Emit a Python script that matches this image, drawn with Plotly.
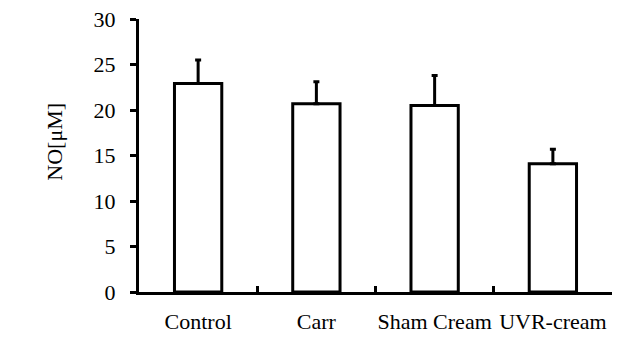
import plotly.graph_objects as go

categories = ["Control", "Carr", "Sham Cream", "UVR-cream"]
values = [22.9, 20.7, 20.5, 14.1]
errors = [2.6, 2.4, 3.3, 1.6]
y_ticks = [0, 5, 10, 15, 20, 25, 30]

FONT = "Liberation Serif, Times New Roman, Times, serif"

fig = go.Figure()
fig.add_trace(go.Bar(
    x=categories, y=values, width=0.4,
    marker=dict(color="white", line=dict(color="black", width=3)),
    error_y=dict(type="data", array=errors, arrayminus=[0]*len(errors), symmetric=False,
                 color="black", thickness=3, width=3),
))
fig.add_annotation(text="NO[μM]", textangle=-90, xref="paper", yref="paper",
                   x=-0.178, y=0.55, xanchor="center", yanchor="middle", showarrow=False,
                   font=dict(family=FONT, size=22, color="black"))
fig.update_layout(
    width=633, height=338,
    margin=dict(l=139, r=21, t=19, b=46, autoexpand=False),
    paper_bgcolor="white", plot_bgcolor="white",
    showlegend=False,
    font=dict(family=FONT, size=22, color="black"),
    xaxis=dict(showline=True, linecolor="black", linewidth=3, ticks="inside",
               tickson="boundaries", ticklen=6, tickwidth=3, tickcolor="black",
               showgrid=False, tickangle=0, ticklabelstandoff=8,
               tickfont=dict(family=FONT, size=22)),
    yaxis=dict(range=[0, 30], tickvals=y_ticks, showline=True, linecolor="black", linewidth=3,
               ticks="outside", ticklen=6, tickwidth=3, tickcolor="black", showgrid=False,
               zeroline=False, ticklabelstandoff=10,
               tickfont=dict(family=FONT, size=22)),
)
fig.write_html("out.html", config={"displayModeBar": False},
               post_script="document.body.style.margin='0';")
